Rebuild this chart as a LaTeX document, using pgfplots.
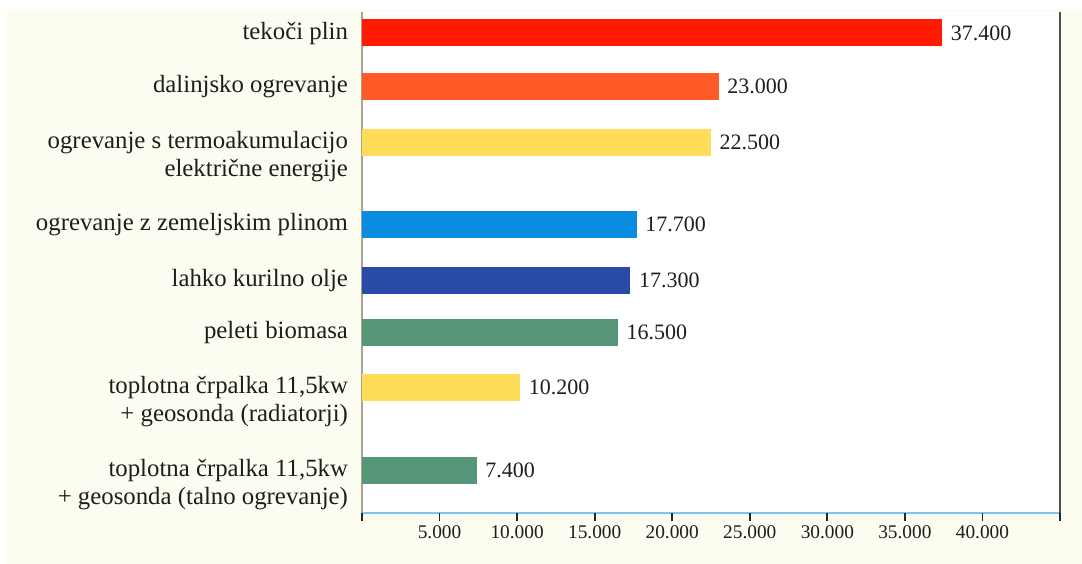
\documentclass[border=0pt]{standalone}
\usepackage{pgfplots}
\pgfplotsset{compat=1.18}
\usepackage{fontspec}
\setmainfont{Liberation Serif}
\definecolor{cream}{HTML}{FCFCF1}
\definecolor{cred}{HTML}{FF1A00}
\definecolor{corange}{HTML}{FF5A28}
\definecolor{cyellow}{HTML}{FFDC5A}
\definecolor{cblue}{HTML}{0A8CE0}
\definecolor{cdblue}{HTML}{2A4BA5}
\definecolor{cgreen}{HTML}{559679}
\definecolor{laxis}{HTML}{A8A38F}
\definecolor{baxis}{HTML}{7EC3EC}
\definecolor{raxis}{HTML}{505050}
\definecolor{txt}{HTML}{1E1E1E}
\newcommand{\two}[2]{\begin{tabular}[t]{@{}r@{}}#1\\#2\end{tabular}}
\begin{document}
\begin{tikzpicture}[x=0.75pt,y=0.75pt]
\useasboundingbox (0,0) rectangle (1082,564);
\fill[white] (0,0) rectangle (1082,564);
\fill[cream] (7,0) rectangle (1082,554);
\begin{axis}[
  at={(362*0.75pt,51*0.75pt)}, anchor=south west,
  scale only axis,
  width=698*0.75pt, height=501*0.75pt,
  xmin=0, xmax=45000,
  ymin=12, ymax=513, y dir=reverse,
  axis background/.style={fill=white},
  axis x line*=bottom, axis y line*=left,
  x axis line style={draw=baxis, line width=1.5pt, -},
  y axis line style={draw=laxis, line width=2.2pt, -},
  scaled x ticks=false,
  xtick={0,5000,10000,15000,20000,25000,30000,35000,40000,45000},
  xticklabels={,5.000,10.000,15.000,20.000,25.000,30.000,35.000,40.000,},
  xtick align=outside,
  major tick length=6pt,
  x tick style={draw=none},
  y tick style={draw=none},
  ytick={33,86,142,224,280,332,387,470},
  yticklabels={{tekoči plin},{dalinjsko ogrevanje},{\two{ogrevanje s termoakumulacijo}{električne energije}},{ogrevanje z zemeljskim plinom},{lahko kurilno olje},{peleti biomasa},{\two{toplotna črpalka 11,5kw}{+ geosonda (radiatorji)}},{\two{toplotna črpalka 11,5kw}{+ geosonda (talno ogrevanje)}}},
  yticklabel style={anchor=base east, font=\fontsize{18.6}{21.5}\selectfont, text=txt, yshift=-4.5pt, xshift=-1pt},
  xticklabel style={font=\fontsize{14.5}{16}\selectfont, text=txt},
  /pgf/number format/assume math mode=true,
  xbar, bar width=27,
  every axis plot/.append style={bar shift=0pt, draw=none},
  nodes near coords={\pgfmathprintnumber[fixed,1000 sep={.},precision=0]{\pgfplotspointmeta}},
  every node near coord/.append style={anchor=west, font=\fontsize{16.5}{18}\selectfont, text=txt, xshift=3pt},
  clip=false,
]
\addplot[fill=cred] coordinates {(37400,33)};
\addplot[fill=corange] coordinates {(23000,86)};
\addplot[fill=cyellow] coordinates {(22500,142)};
\addplot[fill=cblue] coordinates {(17700,224)};
\addplot[fill=cdblue] coordinates {(17300,280)};
\addplot[fill=cgreen] coordinates {(16500,332)};
\addplot[fill=cyellow] coordinates {(10200,387)};
\addplot[fill=cgreen] coordinates {(7400,470)};
\draw[raxis, line width=1.5pt] (rel axis cs:1,0) -- (rel axis cs:1,1);
\pgfplotsinvokeforeach{0,5000,10000,15000,20000,25000,30000,35000,40000,45000}{
  \draw[black!85, line width=1.3pt] (axis cs:#1,513) -- ([yshift=-6pt]axis cs:#1,513);
}
\end{axis}
\end{tikzpicture}
\end{document}
